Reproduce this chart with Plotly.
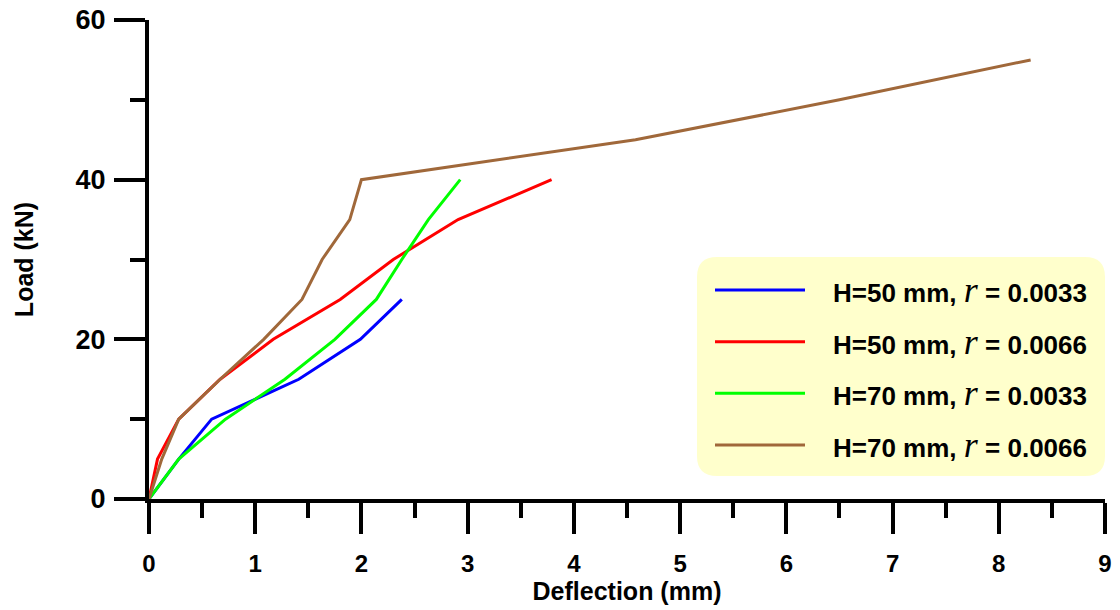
import plotly.graph_objects as go

# ---- data ----
blue_x = [0, 0.28, 0.59, 1.41, 1.99, 2.38]
blue_y = [0, 5, 10, 15, 20, 25]

red_x = [0, 0.08, 0.28, 0.67, 1.17, 1.80, 2.30, 2.91, 3.79]
red_y = [0, 5, 10, 15, 20, 25, 30, 35, 40]

green_x = [0, 0.28, 0.72, 1.28, 1.75, 2.14, 2.38, 2.63, 2.93]
green_y = [0, 5, 10, 15, 20, 25, 30, 35, 40]

brown_x = [0, 0.12, 0.28, 0.67, 1.08, 1.44, 1.63, 1.89, 2.00, 4.58, 6.50, 8.30]
brown_y = [0, 5, 10, 15, 20, 25, 30, 35, 40, 45, 50, 55]

series_names = ["H=50 mm, r = 0.0033", "H=50 mm, r = 0.0066",
                "H=70 mm, r = 0.0033", "H=70 mm, r = 0.0066"]
series_labels = [
    ("H=50 mm, ", " = 0.0033"),
    ("H=50 mm, ", " = 0.0066"),
    ("H=70 mm, ", " = 0.0033"),
    ("H=70 mm, ", " = 0.0066"),
]
colors = ["#0000FF", "#FF0000", "#00FF00", "#A0683A"]

x_ticks = [0, 1, 2, 3, 4, 5, 6, 7, 8, 9]
y_ticks = [0, 20, 40, 60]

# ---- figure geometry ----
W, H = 1120, 610
ML, MR, MT, MB = 149, 15, 20, 111
PW, PH = W - ML - MR, H - MT - MB

def px(xp):
    return (xp - ML) / PW

def py(yp):
    return (H - MB - yp) / PH

FONT = "Liberation Sans, Arial, sans-serif"

fig = go.Figure()
for xs, ys, name, c in zip([blue_x, red_x, green_x, brown_x],
                           [blue_y, red_y, green_y, brown_y],
                           series_names, colors):
    fig.add_trace(go.Scatter(x=xs, y=ys, mode="lines", name=name,
                             line=dict(color=c, width=3), showlegend=False,
                             cliponaxis=False))

axis_common = dict(
    showline=True, linecolor="black", linewidth=4, mirror=False,
    showgrid=False, zeroline=False,
    ticks="outside", ticklen=31, tickwidth=4, tickcolor="black",
)

fig.update_xaxes(
    range=[0, 9], tickvals=x_ticks, ticktext=[str(v) for v in x_ticks],
    tickfont=dict(family=FONT, size=24, color="black", weight="bold"),
    ticklabelstandoff=9,
    minor=dict(ticks="outside", ticklen=15, tickwidth=4, tickcolor="black", dtick=0.5, tick0=0),
    title=dict(text="Deflection (mm)", standoff=3,
               font=dict(family=FONT, size=25, color="black", weight="bold")),
    **axis_common,
)
fig.update_yaxes(
    range=[0, 60], tickvals=y_ticks, ticktext=[str(v) for v in y_ticks],
    tickfont=dict(family=FONT, size=27, color="black", weight="bold"),
    ticklabelstandoff=3,
    minor=dict(ticks="outside", ticklen=15, tickwidth=4, tickcolor="black", dtick=10, tick0=0),
    title=dict(text="Load (kN)", standoff=36,
               font=dict(family=FONT, size=25, color="black", weight="bold")),
    **axis_common,
)

# ---- custom legend box (rounded) ----
x0, x1, y0, y1, r = 697, 1105, 257, 476, 20
rx, ry = r / PW, r / PH
X0, X1, Y0, Y1 = px(x0), px(x1), py(y1), py(y0)
path = (f"M {X0+rx},{Y0} L {X1-rx},{Y0} Q {X1},{Y0} {X1},{Y0+ry} "
        f"L {X1},{Y1-ry} Q {X1},{Y1} {X1-rx},{Y1} L {X0+rx},{Y1} "
        f"Q {X0},{Y1} {X0},{Y1-ry} L {X0},{Y0+ry} Q {X0},{Y0} {X0+rx},{Y0} Z")
fig.add_shape(type="path", path=path, xref="paper", yref="paper",
              fillcolor="#FFFFCC", line=dict(width=0), layer="above")

row_y = [290, 341.7, 393.3, 445]
for (pre, post), c, ry_ in zip(series_labels, colors, row_y):
    fig.add_shape(type="line", xref="paper", yref="paper",
                  x0=px(715), x1=px(805), y0=py(ry_), y1=py(ry_),
                  line=dict(color=c, width=3), layer="above")
    txt = (f"{pre}<span style=\"font-family:'Liberation Serif',serif;"
           f"font-style:italic;font-weight:normal;font-size:36px\">r</span>{post}")
    fig.add_annotation(x=px(831), y=py(ry_), xref="paper", yref="paper",
                       xanchor="left", yanchor="middle", showarrow=False,
                       text=txt,
                       font=dict(family=FONT, size=26, color="black", weight="bold"))

fig.update_layout(
    width=W, height=H,
    margin=dict(l=ML, r=MR, t=MT, b=MB, autoexpand=False),
    paper_bgcolor="white", plot_bgcolor="white",
    showlegend=False,
)

fig.write_html("out.html", config={"displayModeBar": False},
               post_script="document.body.style.margin='0';document.body.style.padding='0';")
